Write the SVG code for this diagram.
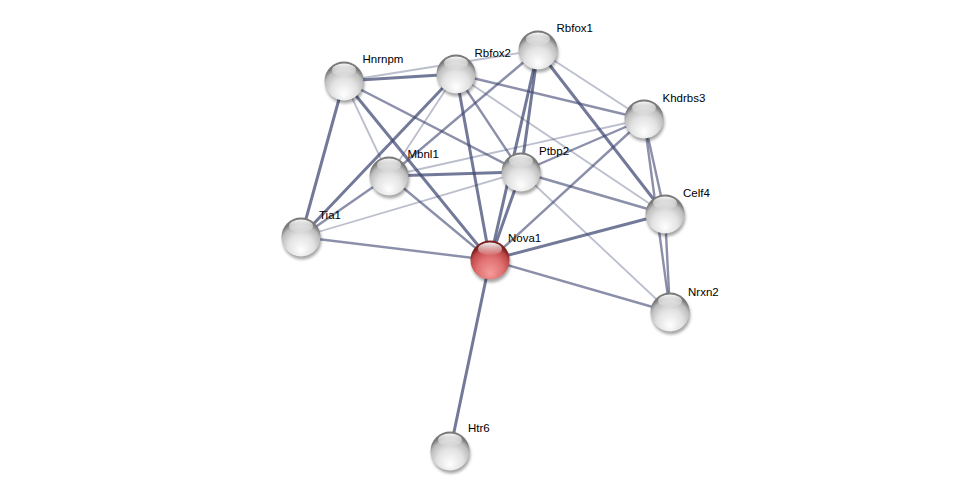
<svg xmlns="http://www.w3.org/2000/svg" width="975" height="496" viewBox="0 0 975 496">
<defs>
<radialGradient id="gGray" cx="50%" cy="70%" r="60%" fx="50%" fy="85%">
<stop offset="0" stop-color="#ffffff"/>
<stop offset="0.55" stop-color="#e2e2e2"/>
<stop offset="0.85" stop-color="#bdbdbd"/>
<stop offset="1" stop-color="#7a7a7a"/>
</radialGradient>
<radialGradient id="gRed" cx="50%" cy="70%" r="60%" fx="50%" fy="85%">
<stop offset="0" stop-color="#f59c9c"/>
<stop offset="0.55" stop-color="#e07070"/>
<stop offset="0.85" stop-color="#c04848"/>
<stop offset="1" stop-color="#7c2020"/>
</radialGradient>
<linearGradient id="gHi" x1="0" y1="0" x2="0" y2="1">
<stop offset="0" stop-color="#ffffff" stop-opacity="0.95"/>
<stop offset="1" stop-color="#ffffff" stop-opacity="0.05"/>
</linearGradient>
<filter id="sh" x="-50%" y="-50%" width="200%" height="200%">
<feGaussianBlur stdDeviation="1.5"/>
</filter>
<style>
.e{stroke:#3d4570;fill:none;stroke-linecap:round}
.s{stroke-width:3;stroke-opacity:0.72}
.m{stroke-width:2.4;stroke-opacity:0.6}
.l{stroke-width:1.8;stroke-opacity:0.35}
.shadow{fill:#000;opacity:0.35;filter:url(#sh)}
.body{fill:url(#gGray)}
.red{fill:url(#gRed)}
.hi{fill:url(#gHi)}
.lbl{font-family:"Liberation Sans",Arial,sans-serif;font-size:11.5px;fill:#000}
</style>
</defs>
<rect width="975" height="496" fill="#ffffff"/>
<g id="edges">
<line class="e s" x1="344" y1="81" x2="456" y2="74"/>
<line class="e l" x1="344" y1="81" x2="538" y2="50"/>
<line class="e s" x1="344" y1="81" x2="301" y2="237"/>
<line class="e l" x1="344" y1="81" x2="389" y2="176"/>
<line class="e s" x1="344" y1="81" x2="490" y2="260"/>
<line class="e m" x1="344" y1="81" x2="521" y2="172"/>
<line class="e s" x1="456" y1="74" x2="301" y2="237"/>
<line class="e l" x1="456" y1="74" x2="389" y2="176"/>
<line class="e s" x1="456" y1="74" x2="490" y2="260"/>
<line class="e m" x1="456" y1="74" x2="521" y2="172"/>
<line class="e m" x1="456" y1="74" x2="644" y2="119"/>
<line class="e l" x1="456" y1="74" x2="665" y2="214"/>
<line class="e m" x1="538" y1="50" x2="389" y2="176"/>
<line class="e s" x1="538" y1="50" x2="521" y2="172"/>
<line class="e s" x1="538" y1="50" x2="490" y2="260"/>
<line class="e l" x1="538" y1="50" x2="644" y2="119"/>
<line class="e s" x1="538" y1="50" x2="665" y2="214"/>
<line class="e m" x1="644" y1="119" x2="521" y2="172"/>
<line class="e m" x1="644" y1="119" x2="490" y2="260"/>
<line class="e m" x1="644" y1="119" x2="665" y2="214"/>
<line class="e m" x1="644" y1="119" x2="670" y2="312"/>
<line class="e l" x1="644" y1="119" x2="389" y2="176"/>
<line class="e l" x1="301" y1="237" x2="521" y2="172"/>
<line class="e m" x1="301" y1="237" x2="389" y2="176"/>
<line class="e m" x1="301" y1="237" x2="490" y2="260"/>
<line class="e m" x1="389" y1="176" x2="490" y2="260"/>
<line class="e s" x1="389" y1="176" x2="521" y2="172"/>
<line class="e s" x1="521" y1="172" x2="490" y2="260"/>
<line class="e m" x1="521" y1="172" x2="665" y2="214"/>
<line class="e l" x1="521" y1="172" x2="670" y2="312"/>
<line class="e s" x1="490" y1="260" x2="665" y2="214"/>
<line class="e m" x1="490" y1="260" x2="670" y2="312"/>
<line class="e s" x1="490" y1="260" x2="450" y2="451"/>
<line class="e m" x1="665" y1="214" x2="670" y2="312"/>
</g>
<g id="Hnrnpm"><circle class="shadow" cx="345" cy="84" r="19.5"/><circle class="body" cx="344" cy="81" r="19.5"/><ellipse class="hi" cx="344" cy="70" rx="12" ry="6.5"/><text class="lbl" x="362.5" y="63">Hnrnpm</text></g>
<g id="Rbfox2"><circle class="shadow" cx="457" cy="77" r="19.5"/><circle class="body" cx="456" cy="74" r="19.5"/><ellipse class="hi" cx="456" cy="63" rx="12" ry="6.5"/><text class="lbl" x="474.5" y="57">Rbfox2</text></g>
<g id="Rbfox1"><circle class="shadow" cx="539" cy="53" r="19.5"/><circle class="body" cx="538" cy="50" r="19.5"/><ellipse class="hi" cx="538" cy="39" rx="12" ry="6.5"/><text class="lbl" x="556.5" y="32">Rbfox1</text></g>
<g id="Khdrbs3"><circle class="shadow" cx="645" cy="122" r="19.5"/><circle class="body" cx="644" cy="119" r="19.5"/><ellipse class="hi" cx="644" cy="108" rx="12" ry="6.5"/><text class="lbl" x="662.5" y="102">Khdrbs3</text></g>
<g id="Mbnl1"><circle class="shadow" cx="390" cy="179" r="19.5"/><circle class="body" cx="389" cy="176" r="19.5"/><ellipse class="hi" cx="389" cy="165" rx="12" ry="6.5"/><text class="lbl" x="407.5" y="158">Mbnl1</text></g>
<g id="Ptbp2"><circle class="shadow" cx="522" cy="175" r="19.5"/><circle class="body" cx="521" cy="172" r="19.5"/><ellipse class="hi" cx="521" cy="161" rx="12" ry="6.5"/><text class="lbl" x="539" y="155">Ptbp2</text></g>
<g id="Celf4"><circle class="shadow" cx="666" cy="217" r="19.5"/><circle class="body" cx="665" cy="214" r="19.5"/><ellipse class="hi" cx="665" cy="203" rx="12" ry="6.5"/><text class="lbl" x="683" y="197">Celf4</text></g>
<g id="Tia1"><circle class="shadow" cx="302" cy="240" r="19.5"/><circle class="body" cx="301" cy="237" r="19.5"/><ellipse class="hi" cx="301" cy="226" rx="12" ry="6.5"/><text class="lbl" x="319" y="219">Tia1</text></g>
<g id="Nova1"><circle class="shadow" cx="491" cy="263" r="19.5"/><circle class="red" cx="490" cy="260" r="19.5"/><ellipse class="hi" cx="490" cy="249" rx="12" ry="6.5"/><text class="lbl" x="508" y="242">Nova1</text></g>
<g id="Nrxn2"><circle class="shadow" cx="671" cy="315" r="19.5"/><circle class="body" cx="670" cy="312" r="19.5"/><ellipse class="hi" cx="670" cy="301" rx="12" ry="6.5"/><text class="lbl" x="688" y="296">Nrxn2</text></g>
<g id="Htr6"><circle class="shadow" cx="451" cy="454" r="19.5"/><circle class="body" cx="450" cy="451" r="19.5"/><ellipse class="hi" cx="450" cy="440" rx="12" ry="6.5"/><text class="lbl" x="468" y="432">Htr6</text></g>
</svg>
